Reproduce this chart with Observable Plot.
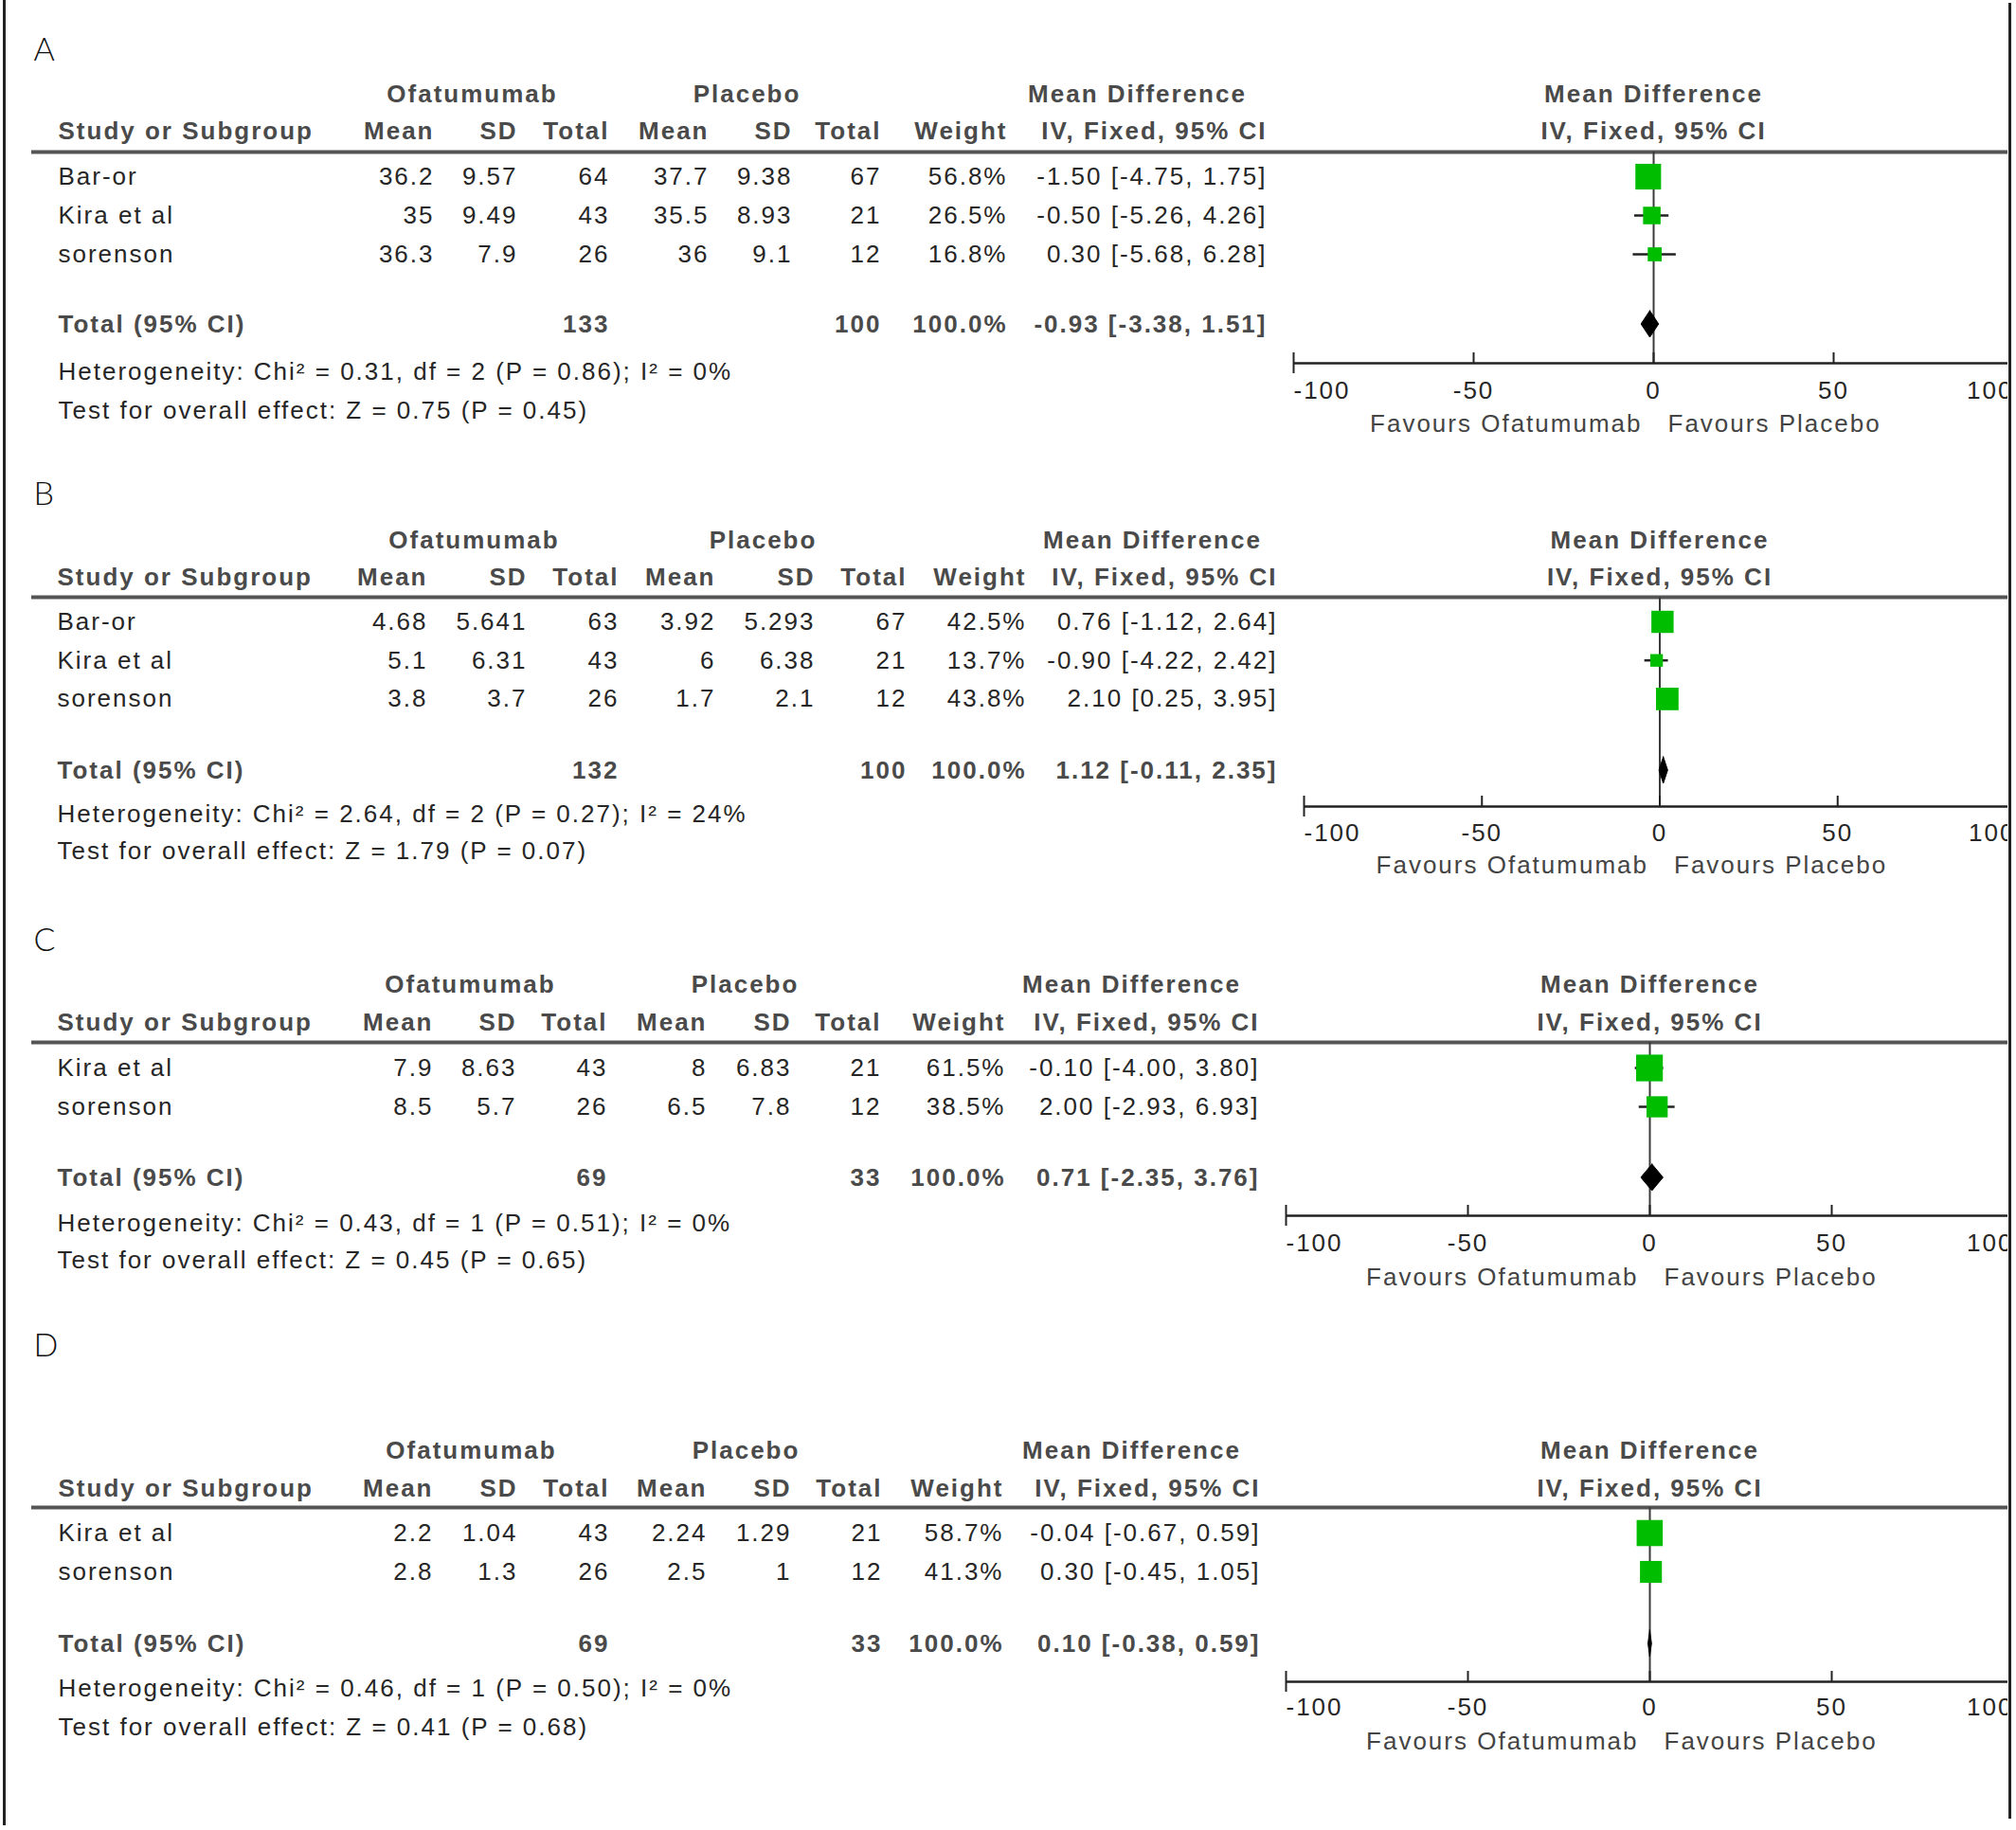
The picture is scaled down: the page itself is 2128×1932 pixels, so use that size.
<!DOCTYPE html>
<html>
<head>
<meta charset="utf-8">
<script src="https://cdn.jsdelivr.net/npm/d3@7"></script>
<script src="https://cdn.jsdelivr.net/npm/@observablehq/plot@0.6"></script>
<style>
  html, body { margin: 0; padding: 0; background: #fff; overflow: hidden; }
  #page { position: relative; width: 2128px; height: 1932px; background: #fff; }
  .panel { position: absolute; left: 0; }
  .border { position: absolute; background: #222; z-index: 5; }
</style>
</head>
<body>
<div id="page"></div>
<script>
// ---------------- DATA ----------------
const panelLetters = ["A", "B", "C", "D"];
const studyNames = [
  ["Bar-or", "Kira et al", "sorenson"],
  ["Bar-or", "Kira et al", "sorenson"],
  ["Kira et al", "sorenson"],
  ["Kira et al", "sorenson"]
];
const ofaMean  = [[36.2, 35, 36.3], [4.68, 5.1, 3.8], [7.9, 8.5], [2.2, 2.8]];
const ofaSD    = [[9.57, 9.49, 7.9], [5.641, 6.31, 3.7], [8.63, 5.7], [1.04, 1.3]];
const ofaTotal = [[64, 43, 26], [63, 43, 26], [43, 26], [43, 26]];
const plaMean  = [[37.7, 35.5, 36], [3.92, 6, 1.7], [8, 6.5], [2.24, 2.5]];
const plaSD    = [[9.38, 8.93, 9.1], [5.293, 6.38, 2.1], [6.83, 7.8], [1.29, 1]];
const plaTotal = [[67, 21, 12], [67, 21, 12], [21, 12], [21, 12]];
const weights  = [[56.8, 26.5, 16.8], [42.5, 13.7, 43.8], [61.5, 38.5], [58.7, 41.3]];
const meanDiff = [[-1.50, -0.50, 0.30], [0.76, -0.90, 2.10], [-0.10, 2.00], [-0.04, 0.30]];
const ciLow    = [[-4.75, -5.26, -5.68], [-1.12, -4.22, 0.25], [-4.00, -2.93], [-0.67, -0.45]];
const ciHigh   = [[1.75, 4.26, 6.28], [2.64, 2.42, 3.95], [3.80, 6.93], [0.59, 1.05]];
const totalOfa  = [133, 132, 69, 69];
const totalPla  = [100, 100, 33, 33];
const totalWeight = [100.0, 100.0, 100.0, 100.0];
const totalMD   = [-0.93, 1.12, 0.71, 0.10];
const totalLow  = [-3.38, -0.11, -2.35, -0.38];
const totalHigh = [1.51, 2.35, 3.76, 0.59];
const heterogeneity = [
  "Heterogeneity: Chi\u00B2 = 0.31, df = 2 (P = 0.86); I\u00B2 = 0%",
  "Heterogeneity: Chi\u00B2 = 2.64, df = 2 (P = 0.27); I\u00B2 = 24%",
  "Heterogeneity: Chi\u00B2 = 0.43, df = 1 (P = 0.51); I\u00B2 = 0%",
  "Heterogeneity: Chi\u00B2 = 0.46, df = 1 (P = 0.50); I\u00B2 = 0%"
];
const overallEffect = [
  "Test for overall effect: Z = 0.75 (P = 0.45)",
  "Test for overall effect: Z = 1.79 (P = 0.07)",
  "Test for overall effect: Z = 0.45 (P = 0.65)",
  "Test for overall effect: Z = 0.41 (P = 0.68)"
];
const groupHeaders = ["Ofatumumab", "Placebo"];
const columnHeaders = ["Study or Subgroup", "Mean", "SD", "Total", "Mean", "SD", "Total", "Weight"];
const effectHeader = ["Mean Difference", "IV, Fixed, 95% CI"];
const totalLabel = "Total (95% CI)";
const favoursLabels = ["Favours Ofatumumab", "Favours Placebo"];
const axisTicks = [-100, -50, 0, 50, 100];

// ---------------- LAYOUT (page pixels) ----------------
const layouts = [
  {top: 0, height: 470, letterY: 53, h1: 99, h2: 138, lineY: 160, rowY0: 186, rowStep: 41,
   totalY: 342, hetY: 392, testY: 433, axisY: 383, tickY: 412, favY: 447,
   cols: [61, 458, 546, 643, 748, 836, 930, 1063, 1337], ofaC: 498, plaC: 788, mdC: 1200,
   xr: [1365, 2125]},
  {top: 470, height: 475, letterY: 522, h1: 570, h2: 609, lineY: 630, rowY0: 656, rowStep: 40.7,
   totalY: 813, hetY: 859, testY: 898, axisY: 851, tickY: 879, favY: 913,
   cols: [60, 451, 556, 653, 755, 860, 957, 1083, 1348], ofaC: 500, plaC: 805, mdC: 1216,
   xr: [1376, 2127]},
  {top: 945, height: 435, letterY: 993, h1: 1039, h2: 1079, lineY: 1100, rowY0: 1127, rowStep: 41,
   totalY: 1243, hetY: 1291, testY: 1330, axisY: 1283, tickY: 1312, favY: 1348,
   cols: [60, 457, 545, 641, 746, 835, 930, 1061, 1329], ofaC: 496, plaC: 786, mdC: 1194,
   xr: [1357, 2125]},
  {top: 1380, height: 552, letterY: 1421, h1: 1531, h2: 1571, lineY: 1591, rowY0: 1618, rowStep: 41,
   totalY: 1735, hetY: 1782, testY: 1823, axisY: 1775, tickY: 1802, favY: 1838,
   cols: [61, 457, 546, 643, 746, 835, 931, 1059, 1330], ofaC: 497, plaC: 787, mdC: 1194,
   xr: [1357, 2125]}
];

const ML = 33, MR = 9;
const FONT = "'Liberation Sans', Arial, Helvetica, sans-serif";
const FS = 26;
const BODY = "#262626";
const HEAD = "#4a4a4a";
const GREEN = "#00bd00";

const num = v => String(v);
const ci = (m, l, h) => `${m.toFixed(2)} [${l.toFixed(2)}, ${h.toFixed(2)}]`;

function buildPanel(p) {
  const L = layouts[p];
  const off = L.top;
  const Y = v => v - off;
  const rows = studyNames[p].map((name, i) => ({
    y: Y(L.rowY0 + i * L.rowStep), name,
    om: ofaMean[p][i], os: ofaSD[p][i], on: ofaTotal[p][i],
    pm: plaMean[p][i], ps: plaSD[p][i], pn: plaTotal[p][i],
    w: weights[p][i], md: meanDiff[p][i], lo: ciLow[p][i], hi: ciHigh[p][i]
  }));
  const c = L.cols;
  const marks = [];
  const txt = (data, opts) => Plot.text(data, {fontFamily: FONT, fontSize: FS, fill: BODY, ...opts});
  const colText = (data, y, text, px, anchor, extra = {}) =>
    txt(data, {y, text, frameAnchor: "left", dx: px - ML, textAnchor: anchor, ...extra});

  // panel letter
  marks.push(txt([panelLetters[p]], {y: () => Y(L.letterY), text: d => d, frameAnchor: "left", dx: 35 - ML,
    textAnchor: "start", fontSize: 34, fontFamily: "Lato, 'Liberation Sans', sans-serif", fontWeight: 300, fill: "#111"}));

  // header row 1
  const bold = {fontWeight: "bold", fill: HEAD};
  marks.push(colText([groupHeaders[0]], () => Y(L.h1), d => d, L.ofaC, "middle", bold));
  marks.push(colText([groupHeaders[1]], () => Y(L.h1), d => d, L.plaC, "middle", bold));
  marks.push(colText([effectHeader[0]], () => Y(L.h1), d => d, L.mdC, "middle", bold));
  marks.push(txt([effectHeader[0]], {x: () => 0, y: () => Y(L.h1), text: d => d, textAnchor: "middle", ...bold}));

  // header row 2
  columnHeaders.forEach((h, j) => {
    marks.push(colText([h], () => Y(L.h2), d => d, c[j], j === 0 ? "start" : "end", bold));
  });
  marks.push(colText([effectHeader[1]], () => Y(L.h2), d => d, c[8], "end", bold));
  marks.push(txt([effectHeader[1]], {x: () => 0, y: () => Y(L.h2), text: d => d, textAnchor: "middle", ...bold}));

  // header rule
  marks.push(Plot.ruleY([Y(L.lineY)], {y: d => d, stroke: "#555", strokeWidth: 4}));

  // study rows
  const accessors = [d => d.name, d => num(d.om), d => num(d.os), d => num(d.on),
    d => num(d.pm), d => num(d.ps), d => num(d.pn), d => d.w.toFixed(1) + "%", d => ci(d.md, d.lo, d.hi)];
  accessors.forEach((a, j) => marks.push(colText(rows, "y", a, c[j], j === 0 ? "start" : "end")));

  // total row
  const tY = () => Y(L.totalY);
  marks.push(colText([totalLabel], tY, d => d, c[0], "start", bold));
  marks.push(colText([totalOfa[p]], tY, d => num(d), c[3], "end", bold));
  marks.push(colText([totalPla[p]], tY, d => num(d), c[6], "end", bold));
  marks.push(colText([totalWeight[p]], tY, d => d.toFixed(1) + "%", c[7], "end", bold));
  marks.push(colText([p], tY, i => ci(totalMD[i], totalLow[i], totalHigh[i]), c[8], "end", bold));

  // heterogeneity & overall effect
  marks.push(colText([heterogeneity[p]], () => Y(L.hetY), d => d, c[0], "start"));
  marks.push(colText([overallEffect[p]], () => Y(L.testY), d => d, c[0], "start"));

  // forest: zero line
  marks.push(Plot.ruleX([0], {x: d => d, y1: () => Y(L.lineY), y2: () => Y(L.axisY), stroke: "#3a3a3a", strokeWidth: 2}));
  // CI whiskers
  marks.push(Plot.ruleY(rows, {y: "y", x1: "lo", x2: "hi", stroke: "#222", strokeWidth: 2.5}));
  // squares
  marks.push(Plot.dot(rows, {x: "md", y: "y", r: "w", symbol: "square", fill: GREEN, stroke: null}));
  // diamond
  const half = 14;
  const diamond = [
    {y: Y(L.totalY) - half, x1: totalMD[p], x2: totalMD[p]},
    {y: Y(L.totalY), x1: totalLow[p], x2: totalHigh[p]},
    {y: Y(L.totalY) + half, x1: totalMD[p], x2: totalMD[p]}
  ];
  marks.push(Plot.areaX(diamond, {y: "y", x1: "x1", x2: "x2", fill: "#000", stroke: "#000", strokeWidth: 1}));

  // axis
  const tmin = d3.min(axisTicks), tmax = d3.max(axisTicks);
  marks.push(Plot.ruleY([Y(L.axisY)], {y: d => d, x1: () => tmin, x2: () => tmax, stroke: "#222", strokeWidth: 2.5, clip: true}));
  marks.push(Plot.ruleX(axisTicks, {x: d => d, y1: () => Y(L.axisY) - 11,
    y2: d => d === tmin ? Y(L.axisY) + 11 : Y(L.axisY), stroke: "#222", strokeWidth: 2, clip: true}));
  const tickText = (data, anchor) => txt(data, {x: d => d, y: () => Y(L.tickY), text: d => String(d), textAnchor: anchor, clip: true});
  marks.push(tickText(axisTicks.filter(t => t === tmin), "start"));
  marks.push(tickText(axisTicks.filter(t => t !== tmin && t !== tmax), "middle"));
  marks.push(tickText(axisTicks.filter(t => t === tmax), "end"));
  // favours labels
  marks.push(txt([favoursLabels[0]], {x: () => 0, y: () => Y(L.favY), text: d => d, textAnchor: "end", dx: -12, fill: "#444"}));
  marks.push(txt([favoursLabels[1]], {x: () => 0, y: () => Y(L.favY), text: d => d, textAnchor: "start", dx: 15, fill: "#444"}));

  return Plot.plot({
    width: 2128,
    height: L.height,
    marginLeft: ML, marginRight: MR, marginTop: 0, marginBottom: 0,
    x: {domain: [tmin, tmax], range: L.xr, axis: null},
    y: {type: "identity", axis: null},
    r: {type: "sqrt", domain: [0, 100], range: [0, 20.3]},
    style: {fontFamily: FONT, fontSize: FS + "px", letterSpacing: "2px", background: "#fff", color: BODY},
    marks
  });
}

const page = document.getElementById("page");
layouts.forEach((L, p) => {
  const div = document.createElement("div");
  div.className = "panel";
  div.style.top = L.top + "px";
  div.appendChild(buildPanel(p));
  page.appendChild(div);
});
// frame borders
const lb = document.createElement("div");
lb.className = "border"; lb.style.left = "3px"; lb.style.top = "0px"; lb.style.width = "3px"; lb.style.height = "1927px";
page.appendChild(lb);
const rb = document.createElement("div");
rb.className = "border"; rb.style.left = "2120px"; rb.style.top = "3px"; rb.style.width = "3px"; rb.style.height = "1917px";
page.appendChild(rb);
</script>
</body>
</html>
